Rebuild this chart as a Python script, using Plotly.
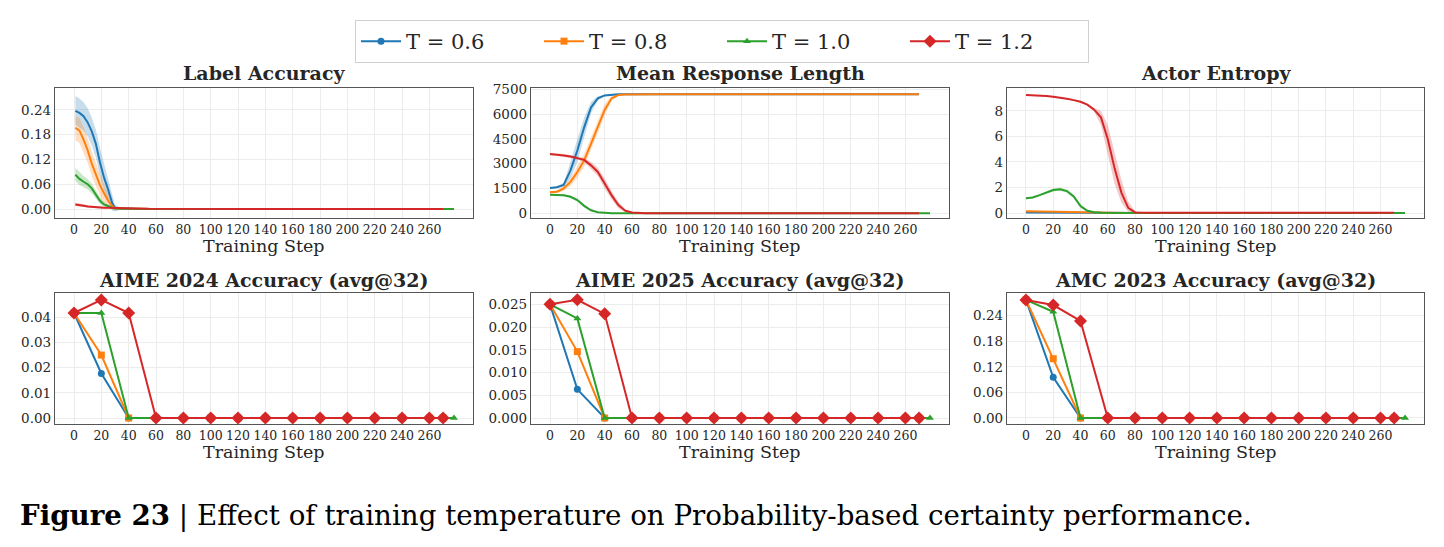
import plotly.graph_objects as go

W, H = 1444, 547

# ---------------- data ----------------
SERIES = ["T = 0.6", "T = 0.8", "T = 1.0", "T = 1.2"]
COLORS = ["#1f77b4", "#ff7f0e", "#2ca02c", "#d62728"]
BANDS = ["rgba(31,119,180,0.25)", "rgba(255,127,14,0.25)", "rgba(44,160,44,0.25)", "rgba(214,39,40,0.25)"]
SYMBOLS = ["circle", "square", "triangle-up", "diamond"]

XTICKS = [0, 20, 40, 60, 80, 100, 120, 140, 160, 180, 200, 220, 240, 260]

# Label Accuracy
LA_STEPS = [1, 4, 7, 10, 13, 16, 19, 22, 25, 28, 30, 35, 45, 55, 80, 120, 160, 200, 240, 270]
LA_STEPS_T10 = [1, 4, 7, 10, 13, 16, 19, 22, 25, 28, 30, 35, 45, 55, 80, 120, 160, 200, 240, 278]
LA_T06 = [0.238, 0.233, 0.225, 0.210, 0.188, 0.158, 0.113, 0.076, 0.047, 0.014, 0.003, 0.001, 0, 0, 0, 0, 0, 0, 0, 0]
LA_T06_HI = [0.274, 0.268, 0.259, 0.244, 0.222, 0.192, 0.148, 0.110, 0.076, 0.036, 0.010, 0.003, 0.001, 0, 0, 0, 0, 0, 0, 0]
LA_T06_LO = [0.204, 0.198, 0.190, 0.176, 0.154, 0.124, 0.080, 0.044, 0.020, -0.004, -0.006, -0.001, 0, 0, 0, 0, 0, 0, 0, 0]
LA_T08 = [0.197, 0.190, 0.168, 0.142, 0.110, 0.082, 0.058, 0.038, 0.020, 0.007, 0.002, 0.001, 0, 0, 0, 0, 0, 0, 0, 0]
LA_T08_HI = [0.226, 0.220, 0.198, 0.172, 0.140, 0.110, 0.085, 0.060, 0.037, 0.018, 0.006, 0.002, 0, 0, 0, 0, 0, 0, 0, 0]
LA_T08_LO = [0.166, 0.160, 0.138, 0.112, 0.080, 0.055, 0.032, 0.016, 0.005, -0.002, -0.002, 0, 0, 0, 0, 0, 0, 0, 0, 0]
LA_T10 = [0.083, 0.073, 0.066, 0.060, 0.050, 0.034, 0.020, 0.011, 0.006, 0.003, 0.001, 0.0005, 0, 0, 0, 0, 0, 0, 0, 0]
LA_T10_HI = [0.100, 0.089, 0.080, 0.073, 0.062, 0.045, 0.029, 0.017, 0.010, 0.005, 0.002, 0.001, 0, 0, 0, 0, 0, 0, 0, 0]
LA_T10_LO = [0.068, 0.058, 0.053, 0.047, 0.038, 0.024, 0.012, 0.006, 0.003, 0.001, 0, 0, 0, 0, 0, 0, 0, 0, 0, 0]
LA_T12 = [0.011, 0.010, 0.008, 0.006, 0.005, 0.004, 0.003, 0.003, 0.003, 0.0025, 0.0025, 0.002, 0.0015, 0.0005, 0, 0, 0, 0, 0, 0]
LA_T12_HI = [0.015, 0.014, 0.012, 0.009, 0.008, 0.006, 0.005, 0.005, 0.005, 0.004, 0.004, 0.004, 0.003, 0.001, 0, 0, 0, 0, 0, 0]
LA_T12_LO = [0.007, 0.006, 0.005, 0.004, 0.003, 0.002, 0.001, 0.001, 0.001, 0.001, 0.001, 0.0005, 0.0005, 0, 0, 0, 0, 0, 0, 0]

# Mean Response Length
RL_STEPS = [0, 5, 10, 15, 20, 25, 30, 35, 40, 45, 50, 55, 60, 65, 70, 80, 120, 160, 200, 240, 270]
RL_STEPS_T10 = [0, 5, 10, 15, 20, 25, 30, 35, 40, 45, 50, 55, 60, 65, 70, 80, 120, 160, 200, 240, 278]
RL_T06 = [1530, 1580, 1720, 2600, 3800, 5200, 6400, 6950, 7130, 7180, 7195, 7200, 7200, 7200, 7200, 7200, 7200, 7200, 7200, 7200, 7200]
RL_T06_HI = [1580, 1640, 1850, 3100, 4500, 5800, 6750, 7080, 7170, 7200, 7210, 7210, 7210, 7210, 7210, 7210, 7210, 7210, 7210, 7210, 7210]
RL_T06_LO = [1480, 1520, 1600, 2100, 3100, 4600, 6050, 6820, 7090, 7160, 7180, 7190, 7190, 7190, 7190, 7190, 7190, 7190, 7190, 7190, 7190]
RL_T08 = [1270, 1300, 1500, 1900, 2500, 3200, 4200, 5250, 6250, 6950, 7150, 7190, 7200, 7200, 7200, 7200, 7200, 7200, 7200, 7200, 7200]
RL_T08_HI = [1330, 1380, 1650, 2150, 2850, 3600, 4600, 5650, 6600, 7100, 7190, 7210, 7210, 7210, 7210, 7210, 7210, 7210, 7210, 7210, 7210]
RL_T08_LO = [1210, 1220, 1350, 1650, 2150, 2800, 3800, 4850, 5900, 6800, 7110, 7170, 7190, 7190, 7190, 7190, 7190, 7190, 7190, 7190, 7190]
RL_T10 = [1120, 1110, 1090, 1000, 800, 450, 180, 60, 15, 5, 0, 0, 0, 0, 0, 0, 0, 0, 0, 0, 0]
RL_T10_HI = [1170, 1160, 1150, 1070, 880, 530, 240, 90, 30, 10, 0, 0, 0, 0, 0, 0, 0, 0, 0, 0, 0]
RL_T10_LO = [1070, 1060, 1030, 930, 720, 370, 120, 30, 5, 0, 0, 0, 0, 0, 0, 0, 0, 0, 0, 0, 0]
RL_T12 = [3580, 3560, 3500, 3430, 3350, 3230, 2900, 2500, 1800, 1100, 500, 160, 50, 10, 0, 0, 0, 0, 0, 0, 0]
RL_T12_HI = [3650, 3630, 3580, 3520, 3450, 3350, 3100, 2750, 2100, 1350, 700, 260, 80, 20, 0, 0, 0, 0, 0, 0, 0]
RL_T12_LO = [3510, 3490, 3420, 3340, 3250, 3110, 2700, 2250, 1500, 850, 300, 60, 20, 0, 0, 0, 0, 0, 0, 0, 0]

# Actor Entropy
AE_STEPS = [0, 5, 10, 15, 20, 25, 30, 35, 40, 45, 50, 55, 60, 65, 70, 75, 80, 90, 120, 160, 200, 240, 270]
AE_STEPS_T10 = [0, 5, 10, 15, 20, 25, 30, 35, 40, 45, 50, 55, 60, 65, 70, 75, 80, 90, 120, 160, 200, 240, 278]
AE_T06 = [0.04, 0.035, 0.03, 0.025, 0.02, 0.015, 0.01, 0.005, 0, 0, 0, 0, 0, 0, 0, 0, 0, 0, 0, 0, 0, 0, 0]
AE_T06_HI = [0.05, 0.045, 0.04, 0.035, 0.03, 0.02, 0.015, 0.01, 0, 0, 0, 0, 0, 0, 0, 0, 0, 0, 0, 0, 0, 0, 0]
AE_T06_LO = [0.03, 0.025, 0.02, 0.015, 0.01, 0.01, 0.005, 0, 0, 0, 0, 0, 0, 0, 0, 0, 0, 0, 0, 0, 0, 0, 0]
AE_T08 = [0.13, 0.12, 0.10, 0.08, 0.06, 0.045, 0.03, 0.02, 0.01, 0.005, 0, 0, 0, 0, 0, 0, 0, 0, 0, 0, 0, 0, 0]
AE_T08_HI = [0.15, 0.14, 0.12, 0.10, 0.08, 0.06, 0.04, 0.03, 0.015, 0.008, 0, 0, 0, 0, 0, 0, 0, 0, 0, 0, 0, 0, 0]
AE_T08_LO = [0.11, 0.10, 0.08, 0.06, 0.04, 0.03, 0.02, 0.01, 0.005, 0.002, 0, 0, 0, 0, 0, 0, 0, 0, 0, 0, 0, 0, 0]
AE_T10 = [1.15, 1.22, 1.40, 1.62, 1.80, 1.86, 1.72, 1.30, 0.55, 0.18, 0.06, 0.02, 0.01, 0, 0, 0, 0, 0, 0, 0, 0, 0, 0]
AE_T10_HI = [1.22, 1.30, 1.48, 1.72, 1.92, 1.98, 1.86, 1.45, 0.68, 0.26, 0.10, 0.04, 0.02, 0, 0, 0, 0, 0, 0, 0, 0, 0, 0]
AE_T10_LO = [1.08, 1.14, 1.32, 1.52, 1.68, 1.74, 1.58, 1.15, 0.42, 0.10, 0.02, 0, 0, 0, 0, 0, 0, 0, 0, 0, 0, 0, 0]
AE_T12 = [9.25, 9.24, 9.22, 9.18, 9.12, 9.05, 8.95, 8.85, 8.72, 8.50, 8.10, 7.50, 5.80, 3.50, 1.60, 0.40, 0.05, 0.02, 0.02, 0.02, 0.02, 0.02, 0.02]
AE_T12_HI = [9.28, 9.27, 9.25, 9.21, 9.15, 9.08, 8.98, 8.89, 8.77, 8.57, 8.25, 8.00, 6.90, 4.70, 2.60, 0.90, 0.15, 0.03, 0.03, 0.03, 0.03, 0.03, 0.03]
AE_T12_LO = [9.22, 9.21, 9.19, 9.15, 9.09, 9.02, 8.92, 8.81, 8.67, 8.43, 7.95, 6.90, 4.70, 2.30, 0.80, 0.10, 0.02, 0.01, 0.01, 0.01, 0.01, 0.01, 0.01]

# Benchmarks (avg@32)
BM_STEPS = [0, 20, 40, 60, 80, 100, 120, 140, 160, 180, 200, 220, 240, 260, 270]
BM_STEPS_T10 = [0, 20, 40, 60, 80, 100, 120, 140, 160, 180, 200, 220, 240, 260, 278]
AIME24_T06 = [0.0417, 0.0177, 0, 0, 0, 0, 0, 0, 0, 0, 0, 0, 0, 0, 0]
AIME24_T08 = [0.0417, 0.0250, 0, 0, 0, 0, 0, 0, 0, 0, 0, 0, 0, 0, 0]
AIME24_T10 = [0.0417, 0.0417, 0, 0, 0, 0, 0, 0, 0, 0, 0, 0, 0, 0, 0]
AIME24_T12 = [0.0417, 0.0469, 0.0417, 0, 0, 0, 0, 0, 0, 0, 0, 0, 0, 0, 0]
AIME25_T06 = [0.0250, 0.0063, 0, 0, 0, 0, 0, 0, 0, 0, 0, 0, 0, 0, 0]
AIME25_T08 = [0.0250, 0.0146, 0, 0, 0, 0, 0, 0, 0, 0, 0, 0, 0, 0, 0]
AIME25_T10 = [0.0250, 0.0219, 0, 0, 0, 0, 0, 0, 0, 0, 0, 0, 0, 0, 0]
AIME25_T12 = [0.0250, 0.0260, 0.0229, 0, 0, 0, 0, 0, 0, 0, 0, 0, 0, 0, 0]
AMC23_T06 = [0.277, 0.0954, 0, 0, 0, 0, 0, 0, 0, 0, 0, 0, 0, 0, 0]
AMC23_T08 = [0.277, 0.139, 0, 0, 0, 0, 0, 0, 0, 0, 0, 0, 0, 0, 0]
AMC23_T10 = [0.277, 0.249, 0, 0, 0, 0, 0, 0, 0, 0, 0, 0, 0, 0, 0]
AMC23_T12 = [0.277, 0.265, 0.2275, 0, 0, 0, 0, 0, 0, 0, 0, 0, 0, 0, 0]

TITLES = ["Label Accuracy", "Mean Response Length", "Actor Entropy",
          "AIME 2024 Accuracy (avg@32)", "AIME 2025 Accuracy (avg@32)", "AMC 2023 Accuracy (avg@32)"]
YTICKS = [[0, 0.06, 0.12, 0.18, 0.24], [0, 1500, 3000, 4500, 6000, 7500], [0, 2, 4, 6, 8],
          [0, 0.01, 0.02, 0.03, 0.04], [0, 0.005, 0.010, 0.015, 0.020, 0.025], [0, 0.06, 0.12, 0.18, 0.24]]
YFMT = [".2f", "d", "d", ".2f", ".3f", ".2f"]
YRANGES = [[-0.0218, 0.2933], [-284, 7579], [-0.39, 9.80],
           [-0.00238, 0.04965], [-0.00132, 0.02749], [-0.0141, 0.2932]]
CAPTION = "<b>Figure 23</b> | Effect of training temperature on Probability-based certainty performance."

top_panels = [
    (LA_STEPS, LA_STEPS_T10, [(LA_T06, LA_T06_HI, LA_T06_LO), (LA_T08, LA_T08_HI, LA_T08_LO),
                              (LA_T10, LA_T10_HI, LA_T10_LO), (LA_T12, LA_T12_HI, LA_T12_LO)]),
    (RL_STEPS, RL_STEPS_T10, [(RL_T06, RL_T06_HI, RL_T06_LO), (RL_T08, RL_T08_HI, RL_T08_LO),
                              (RL_T10, RL_T10_HI, RL_T10_LO), (RL_T12, RL_T12_HI, RL_T12_LO)]),
    (AE_STEPS, AE_STEPS_T10, [(AE_T06, AE_T06_HI, AE_T06_LO), (AE_T08, AE_T08_HI, AE_T08_LO),
                              (AE_T10, AE_T10_HI, AE_T10_LO), (AE_T12, AE_T12_HI, AE_T12_LO)]),
]
bottom_panels = [
    [AIME24_T06, AIME24_T08, AIME24_T10, AIME24_T12],
    [AIME25_T06, AIME25_T08, AIME25_T10, AIME25_T12],
    [AMC23_T06, AMC23_T08, AMC23_T10, AMC23_T12],
]

# ---------------- layout geometry (pixels) ----------------
COLS_PX = [(55, 473), (531, 949), (1007, 1424)]
ROWS_PX = [(88, 218), (293, 424)]
TITLE_Y = [73, 280]
XLABEL_Y = [246, 452]
FONT = "DejaVu Serif"
TXT = "#262626"

def xd(a, b):
    return [a / W, b / W]

def yd(top, bot):
    return [1 - bot / H, 1 - top / H]

fig = go.Figure()

def ax_names(i):
    return ("x" if i == 0 else f"x{i+1}", "y" if i == 0 else f"y{i+1}")

# top row traces
for p, (steps, steps10, series) in enumerate(top_panels):
    xa, ya = ax_names(p)
    for s, (mid, hi, lo) in enumerate(series):
        xs = steps10 if s == 2 else steps
        fig.add_trace(go.Scatter(x=list(xs) + list(xs)[::-1], y=list(hi) + list(lo)[::-1],
                                 fill="toself", fillcolor=BANDS[s], line=dict(width=0),
                                 mode="lines", hoverinfo="skip", showlegend=False,
                                 xaxis=xa, yaxis=ya))
    for s, (mid, hi, lo) in enumerate(series):
        xs = steps10 if s == 2 else steps
        fig.add_trace(go.Scatter(x=xs, y=mid, mode="lines", line=dict(color=COLORS[s], width=2),
                                 showlegend=False, xaxis=xa, yaxis=ya, name=SERIES[s]))

# bottom row traces
MSIZE = [7, 7, 7, 10]
for p, series in enumerate(bottom_panels):
    xa, ya = ax_names(p + 3)
    for s, vals in enumerate(series):
        xs = BM_STEPS_T10 if s == 2 else BM_STEPS
        fig.add_trace(go.Scatter(x=xs, y=vals, mode="lines+markers",
                                 line=dict(color=COLORS[s], width=2),
                                 marker=dict(symbol=SYMBOLS[s], size=MSIZE[s], color=COLORS[s]),
                                 name=SERIES[s], showlegend=(p == 0), xaxis=xa, yaxis=ya))

layout = dict(
    width=W, height=H, margin=dict(l=0, r=0, t=0, b=0, autoexpand=False),
    paper_bgcolor="white", plot_bgcolor="white",
    font=dict(family=FONT, color=TXT),
    legend=dict(orientation="h", x=0.5, xanchor="center", y=1 - 20 / H, yanchor="top",
                bordercolor="#d0d0d0", borderwidth=1, bgcolor="white",
                font=dict(family=FONT, size=21, color=TXT),
                entrywidth=128, entrywidthmode="pixels", itemwidth=40),
    annotations=[],
)

for i in range(6):
    r, c = divmod(i, 3)
    key = "" if i == 0 else str(i + 1)
    xa, ya = ax_names(i)
    layout["xaxis" + key] = dict(
        domain=xd(*COLS_PX[c]), anchor=ya, range=[-13.9, 291.9], automargin=False,
        tickvals=XTICKS, ticks="", showgrid=True, gridcolor="#ececec", gridwidth=0.8,
        zeroline=False, showline=True, linecolor="#555555", linewidth=1.3, mirror=True,
        tickfont=dict(family=FONT, size=12.5, color=TXT),
    )
    layout["yaxis" + key] = dict(
        domain=yd(*ROWS_PX[r]), anchor=xa, range=YRANGES[i], automargin=False,
        tickvals=YTICKS[i], tickformat=YFMT[i], ticks="", showgrid=True, gridcolor="#ececec",
        gridwidth=0.8, zeroline=False, showline=True, linecolor="#555555", linewidth=1.3,
        mirror=True, tickfont=dict(family=FONT, size=13.5, color=TXT),
    )
    cx = (COLS_PX[c][0] + COLS_PX[c][1]) / 2 / W
    layout["annotations"].append(dict(
        text=f"<b>{TITLES[i]}</b>", x=cx, y=1 - TITLE_Y[r] / H, xref="paper", yref="paper",
        xanchor="center", yanchor="middle", showarrow=False,
        font=dict(family=FONT, size=19, color=TXT)))
    layout["annotations"].append(dict(
        text="Training Step", x=cx, y=1 - XLABEL_Y[r] / H, xref="paper", yref="paper",
        xanchor="center", yanchor="middle", showarrow=False,
        font=dict(family=FONT, size=17.5, color=TXT)))

layout["annotations"].append(dict(
    text=CAPTION, x=18 / W, y=1 - 515 / H, xref="paper", yref="paper", xanchor="left",
    yanchor="middle", showarrow=False, font=dict(family=FONT, size=27.7, color="black")))

fig.update_layout(**layout)
fig.write_html("out.html")
